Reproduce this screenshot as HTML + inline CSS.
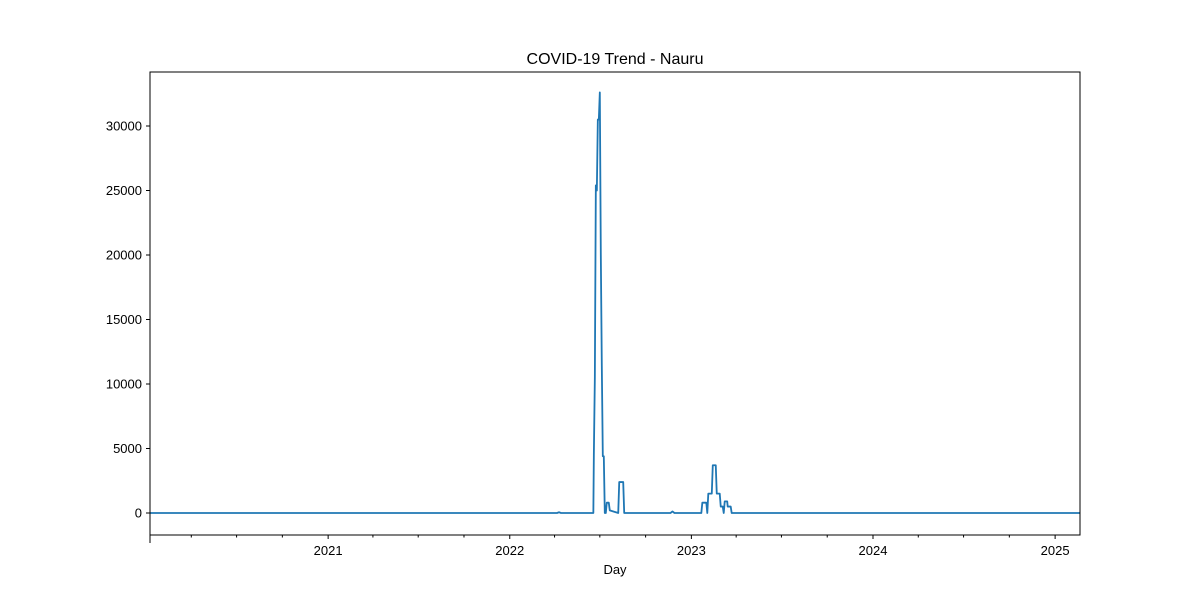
<!DOCTYPE html>
<html><head><meta charset="utf-8"><style>
body{margin:0;background:#fff;font-family:"Liberation Sans",sans-serif;}
svg text{font-family:"Liberation Sans",sans-serif;}
</style></head><body>
<svg id="chart" width="1200" height="600">
<rect width="1200" height="600" fill="#fff"/>
<text x="615" y="64" font-size="16" text-anchor="middle">COVID-19 Trend - Nauru</text>
<g id="axes"></g>
<text x="615" y="574" font-size="13" text-anchor="middle">Day</text>
</svg>
<script>
const dates = ["2020-01-09","2022-04-06","2022-04-10","2022-04-14","2022-06-18","2022-06-19","2022-06-21","2022-06-23","2022-06-25","2022-06-27","2022-06-29","2022-07-01","2022-07-03","2022-07-05","2022-07-07","2022-07-09","2022-07-11","2022-07-13","2022-07-15","2022-07-19","2022-07-21","2022-08-07","2022-08-09","2022-08-17","2022-08-19","2022-08-23","2022-11-20","2022-11-24","2022-11-28","2023-01-21","2023-01-23","2023-01-31","2023-02-02","2023-02-04","2023-02-11","2023-02-13","2023-02-19","2023-02-21","2023-02-27","2023-03-01","2023-03-05","2023-03-07","2023-03-09","2023-03-14","2023-03-15","2023-03-21","2023-03-23","2025-02-20"];
const values = [0,0,60,0,0,4500,10500,25400,25000,30500,30500,32600,20000,11400,4400,4400,0,0,800,800,200,0,2400,2400,0,0,0,120,0,0,800,800,0,1500,1500,3700,3700,1500,1500,500,500,0,900,900,500,500,0,0];
const yTicks = [0,5000,10000,15000,20000,25000,30000];
const xTickYears = [2021,2022,2023,2024,2025];

const L=150,R=1080,T=72,B=535;
const d0=Date.UTC(2020,0,9), d1=Date.UTC(2025,1,20);
const xs=t=>L+(t-d0)/(d1-d0)*(R-L);
const ys=v=>513-v*(513-126)/30000;
const pd=s=>{const p=s.split('-');return Date.UTC(+p[0],p[1]-1,+p[2]);};
const NS="http://www.w3.org/2000/svg";
const g=document.getElementById('axes');
function mk(tag,attrs){const e=document.createElementNS(NS,tag);for(const k in attrs)e.setAttribute(k,attrs[k]);g.appendChild(e);return e;}
yTicks.forEach(v=>{
  const y=ys(v);
  const tk=mk('line',{x1:L-4,x2:L,y1:y,y2:y,stroke:'#000'});
  
  
  const t=mk('text',{x:L-8,y:y+4.5,'font-size':13,'text-anchor':'end'});
  t.textContent=v;
  
  
});
for(let y=2020;y<=2025;y++){for(let m=0;m<12;m+=3){const t=Date.UTC(y,m,1);if(t<d0||t>d1||m===0)continue;const x=xs(t);
  const mt=mk('line',{x1:x,x2:x,y1:B,y2:B+2.5,stroke:'#000'});
  
  }}
xTickYears.forEach(yr=>{
  const x=xs(Date.UTC(yr,0,1));
  const tk=mk('line',{x1:x,x2:x,y1:B,y2:B+4,stroke:'#000'});
  
  
  const t=mk('text',{x:x,y:B+20,'font-size':13,'text-anchor':'middle'});
  t.textContent=yr;
  
  
});
const st=mk('line',{x1:L,x2:L,y1:B,y2:B+8,stroke:'#000'});


const pts=dates.map((d,i)=>xs(pd(d)).toFixed(2)+','+ys(values[i]).toFixed(2)).join(' ');
const line=mk('polyline',{points:pts,fill:'none',stroke:'#1f77b4','stroke-width':1.8,'stroke-linejoin':'round'});


const fr=mk('rect',{x:L,y:T,width:R-L,height:B-T,fill:'none',stroke:'#000','stroke-width':1});


</script>
</body></html>
